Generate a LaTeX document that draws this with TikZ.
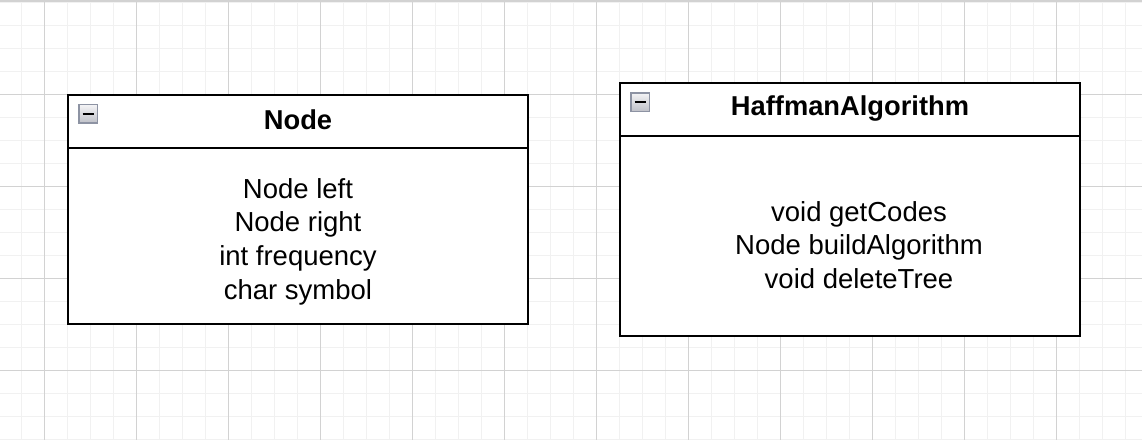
\documentclass[tikz,border=0pt]{standalone}
\usepackage{fontspec}
\setmainfont{Liberation Sans}
\definecolor{gridminor}{HTML}{F1F1F1}
\definecolor{gridmajor}{HTML}{D2D2D2}
\definecolor{iconborder}{HTML}{8D93A3}
\definecolor{icontop}{HTML}{F4F4F6}
\definecolor{iconbottom}{HTML}{BFC1C8}
\tikzset{
  umlpart/.style={draw=black, line width=1.8pt, fill=white, minimum width=460pt,
    anchor=north west, inner sep=0pt, outer sep=0pt},
  collapseicon/.style={draw=iconborder, line width=1.5pt, top color=icontop,
    bottom color=iconbottom, minimum size=18.5pt, inner sep=0pt},
  titletext/.style={font=\fontsize{27.3pt}{32pt}\selectfont\bfseries, anchor=base, inner sep=0pt},
  bodytext/.style={font=\fontsize{27.5pt}{33.2pt}\selectfont, align=center, inner sep=0pt},
}
\begin{document}
\begin{tikzpicture}[x=1pt, y=-1pt]
\useasboundingbox (0,0) rectangle (1142,440);
\fill[white] (0,0) rectangle (1142,440);
% grid
\foreach \k in {0,...,48} {
  \pgfmathsetmacro\xx{21.3+23.01*\k}
  \draw[gridminor, line width=1pt] (\xx,0) -- (\xx,440);
}
\foreach \k in {0,...,19} {
  \pgfmathsetmacro\yy{2.5+23.01*\k}
  \draw[gridminor, line width=1pt] (0,\yy) -- (1142,\yy);
}
\foreach \k in {0,...,11} {
  \pgfmathsetmacro\xx{44.3+92.04*\k}
  \draw[gridmajor, line width=1pt] (\xx,0) -- (\xx,440);
}
\foreach \k in {1,...,4} {
  \pgfmathsetmacro\yy{2.5+92.04*\k}
  \draw[gridmajor, line width=1pt] (0,\yy) -- (1142,\yy);
}
\draw[gridmajor, line width=2pt] (0,1) -- (1142,1);

% Node class
\node[umlpart, minimum height=53pt] (nodeHead) at (68,95) {};
\node[umlpart, minimum height=176pt] (nodeBody) at (68,148) {};
\node[collapseicon] (nodeIcon) at (88,113.7) {\rule[-1pt]{11pt}{2pt}};
\node[titletext] (nodeTitle) at (298,129.5) {Node};
\node[bodytext, font=\fontsize{27.5pt}{33.7pt}\selectfont] (nodeAttrs) at (298,241.5) {Node left\\Node right\\int frequency\\char symbol};

% HaffmanAlgorithm class
\node[umlpart, minimum height=53pt] (algHead) at (620,83) {};
\node[umlpart, minimum height=200pt] (algBody) at (620,136) {};
\node[collapseicon] (algIcon) at (640,102) {\rule[-1pt]{11pt}{2pt}};
\node[titletext] (algTitle) at (850,115.5) {HaffmanAlgorithm};
\node[bodytext] (algOps) at (859,245) {void getCodes\\Node buildAlgorithm\\void deleteTree};
\end{tikzpicture}
\end{document}
